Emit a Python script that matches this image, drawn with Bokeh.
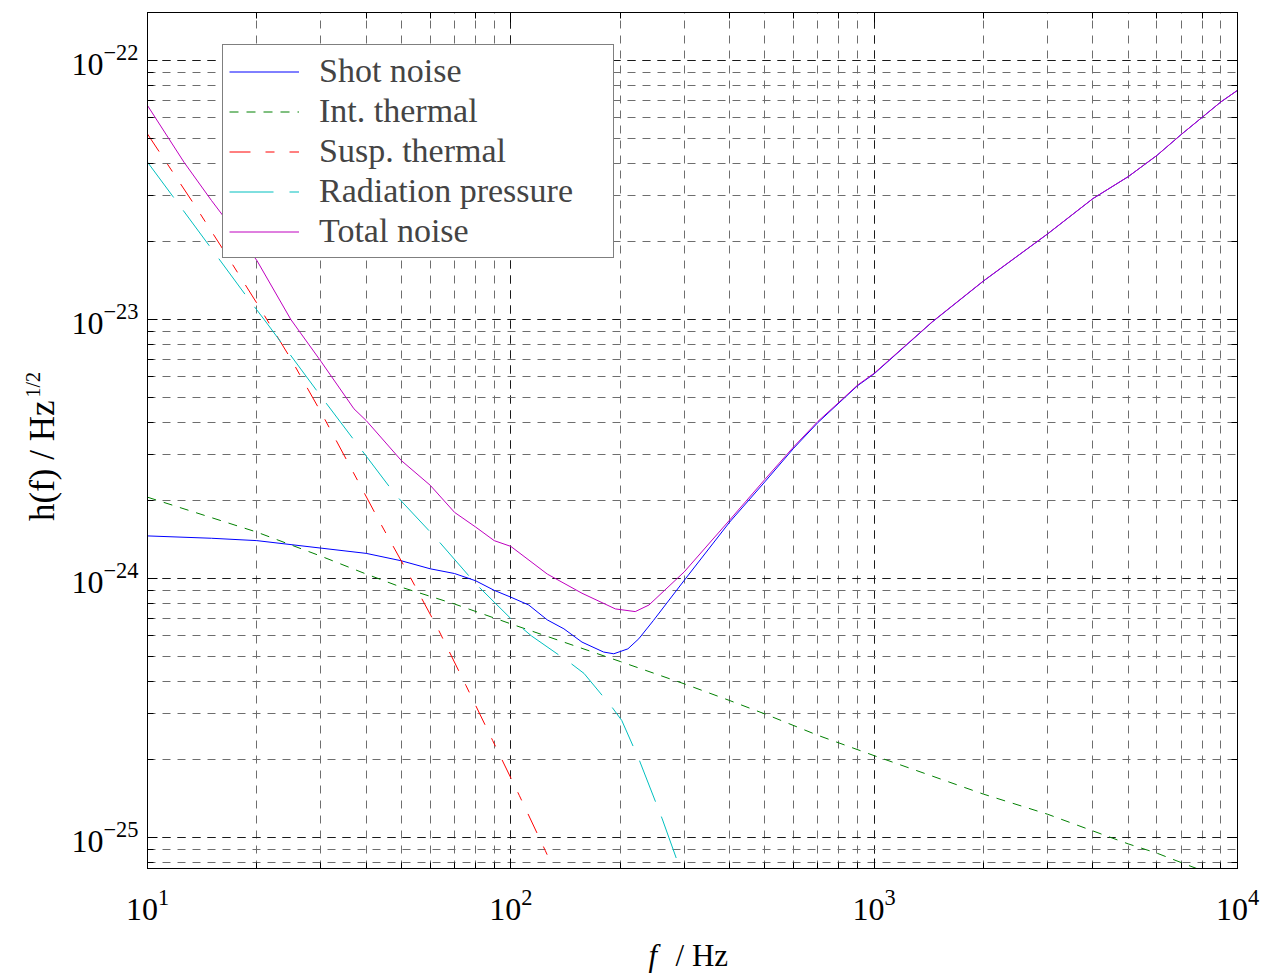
import math
from bokeh.plotting import figure
from bokeh.models import (Legend, LegendItem, Label, LogAxis, Range1d,
                          CustomJSTickFormatter)
from bokeh.embed import file_html
from bokeh.resources import INLINE

# ---------------- data ----------------
f_shot = [10, 15, 20, 30, 40, 50, 60, 70, 80, 90, 100, 112, 126, 140, 157, 180,
          192, 210, 225, 247, 300, 400, 500, 600, 700, 800, 900, 1000, 1445,
          2000, 3000, 4000, 5000, 6000, 7000, 8000, 9000, 10000]
h_shot = [1.46e-24, 1.43e-24, 1.40e-24, 1.31e-24, 1.25e-24, 1.17e-24, 1.09e-24,
          1.045e-24, 9.8e-25, 9.0e-25, 8.47e-25, 7.9e-25, 6.92e-25, 6.39e-25,
          5.68e-25, 5.2e-25, 5.12e-25, 5.35e-25, 5.85e-25, 6.89e-25, 9.83e-25,
          1.65e-24, 2.36e-24, 3.18e-24, 4.0e-24, 4.76e-24, 5.55e-24, 6.17e-24,
          9.78e-24, 1.408e-23, 2.138e-23, 2.928e-23, 3.558e-23, 4.298e-23,
          5.178e-23, 6.038e-23, 6.918e-23, 7.668e-23]

f_int = [10, 20, 30, 40, 50, 70, 100, 200, 300, 400, 500, 700, 1000, 2000, 3000,
         4000, 5000, 6000, 7000, 10000]
h_int = [2.06e-24, 1.51e-24, 1.22e-24, 1.04e-24, 9.25e-25, 7.97e-25, 6.68e-25,
         4.78e-25, 3.92e-25, 3.38e-25, 3.0e-25, 2.48e-25, 2.07e-25, 1.47e-25,
         1.23e-25, 1.06e-25, 9.45e-26, 8.7e-26, 8.0e-26, 6.6e-26]

f_susp = [10, 13.4, 16.2, 20.2, 24.8, 30.2, 36.2, 43.8, 52.5, 63, 75.2, 89.1,
          105.6, 124.4, 150]
h_susp = [5.2e-23, 2.8e-23, 1.85e-23, 1.13e-23, 7.05e-24, 4.32e-24, 2.69e-24,
          1.63e-24, 1.03e-24, 6.4e-25, 3.87e-25, 2.37e-25, 1.45e-25, 8.9e-26,
          5.0e-26]

f_rad = [10, 11.8, 14.9, 18.8, 21.4, 29.9, 37.7, 48.2, 62, 80.3, 100, 114, 146,
         159, 190, 202, 226, 261, 292, 320]
h_rad = [4.05e-23, 2.96e-23, 1.90e-23, 1.22e-23, 9.6e-24, 5.09e-24, 3.31e-24,
         2.1e-24, 1.44e-24, 9.5e-25, 7.0e-25, 6.0e-25, 4.71e-25, 4.3e-25,
         3.18e-25, 2.83e-25, 1.98e-25, 1.18e-25, 7.6e-26, 5.0e-26]

f_tot = [10, 12.6, 15, 20, 24.8, 30, 37, 40, 50, 60, 70, 80, 90, 100, 126, 157,
         194, 220, 240, 300, 400, 500, 600, 700, 800, 900, 1000, 1445, 2000,
         3000, 4000, 5000, 6000, 7000, 8000, 9000, 10000]
h_tot = [6.7e-23, 4.05e-23, 2.88e-23, 1.69e-23, 1.0e-23, 6.9e-24, 4.52e-24,
         4.07e-24, 2.85e-24, 2.29e-24, 1.80e-24, 1.58e-24, 1.40e-24, 1.33e-24,
         1.04e-24, 8.77e-25, 7.63e-25, 7.45e-25, 7.9e-25, 1.06e-24, 1.68e-24,
         2.41e-24, 3.22e-24, 4.04e-24, 4.79e-24, 5.58e-24, 6.2e-24, 9.8e-24,
         1.41e-23, 2.14e-23, 2.93e-23, 3.56e-23, 4.30e-23, 5.18e-23, 6.04e-23,
         6.92e-23, 7.67e-23]

series_names = ["Shot noise", "Int. thermal", "Susp. thermal",
                "Radiation pressure", "Total noise"]
x_label_italic = "f"
x_label_rest = "/ Hz"
y_label_main = "h(f) / Hz"
y_label_sup = "1/2"

x_lo, x_hi = 10, 1e4
y_lo, y_hi = 7.59e-26, 1.532e-22

SERIF = "Liberation Serif"

# ---------------- figure ----------------
p = figure(width=1265, height=974, x_axis_type="log", y_axis_type="log",
           x_range=Range1d(x_lo, x_hi), y_range=Range1d(y_lo, y_hi),
           output_backend="svg", toolbar_location=None,
           min_border_left=147, min_border_right=28, min_border_top=12,
           min_border_bottom=106)
p.background_fill_color = "white"
p.border_fill_color = "white"
p.outline_line_color = "black"
p.outline_line_width = 1

for g in (p.xgrid, p.ygrid):
    g.grid_line_color = "#1a1a1a"
    g.grid_line_dash = "8 7"
    g.grid_line_width = 1
    g.minor_grid_line_color = "#6e6e6e"
    g.minor_grid_line_dash = "8 7"
    g.minor_grid_line_width = 1

for ax in (p.xaxis[0], p.yaxis[0]):
    ax.axis_line_color = "black"
    ax.major_tick_in = 10
    ax.major_tick_out = 0
    ax.minor_tick_in = 6
    ax.minor_tick_out = 0
    ax.major_tick_line_color = "black"
    ax.minor_tick_line_color = "black"
    ax.major_label_text_font = SERIF
    ax.major_label_text_font_size = "32px"
    ax.major_label_text_color = "black"
p.xaxis.major_label_standoff = 21
p.yaxis.major_label_standoff = 9

blank = CustomJSTickFormatter(code="return ''")
for side in ("right", "above"):
    ax = LogAxis(formatter=blank)
    ax.axis_line_color = "black"
    ax.major_tick_in = 10
    ax.major_tick_out = 0
    ax.minor_tick_in = 6
    ax.minor_tick_out = 0
    ax.major_label_standoff = 0
    ax.major_label_text_font_size = "1px"
    p.add_layout(ax, side)

# ---------------- curves ----------------
r_shot = p.line(f_shot, h_shot, line_color="#0000ff", line_width=1)
r_int = p.line(f_int, h_int, line_color="#008000", line_width=1,
               line_dash="9 8")
r_susp = p.line(f_susp, h_susp, line_color="#ff0000", line_width=1,
                line_dash="21 15 9 15")
r_rad = p.line(f_rad, h_rad, line_color="#00bfbf", line_width=1,
               line_dash="44 16")
r_tot = p.line(f_tot, h_tot, line_color="#bf00bf", line_width=1)

legend = Legend(items=[LegendItem(label=n, renderers=[r]) for n, r in
                       zip(series_names, [r_shot, r_int, r_susp, r_rad, r_tot])],
                location=(75, 610))
legend.label_text_font = SERIF
legend.label_text_font_size = "34px"
legend.glyph_width = 70
legend.glyph_height = 39
legend.label_height = 40
legend.label_width = 288
legend.label_standoff = 20
legend.spacing = 0
legend.padding = 6
legend.margin = 0
legend.border_line_color = "black"
legend.border_line_width = 1
legend.background_fill_color = "white"
legend.background_fill_alpha = 1
p.add_layout(legend)

# ---------------- axis titles (side-panel labels, placed in data units) ----
def xd(px):
    return 10 ** (1 + (px - 147) / 363.3)

def yd(py):
    return 10 ** (-22 - (py - 60) / 259)

lab_y = Label(x=xd(42), y=yd(400), text=y_label_main, angle=math.pi / 2,
              text_align="right", text_baseline="alphabetic",
              text_font=SERIF, text_font_size="35px", text_color="black")
lab_sup = Label(x=xd(33), y=yd(397), text=y_label_sup, angle=math.pi / 2,
                text_align="left", text_baseline="alphabetic",
                text_font=SERIF, text_font_size="20px", text_color="black")
lab_f = Label(x=xd(648), y=yd(955), text=x_label_italic, text_align="left",
              text_baseline="alphabetic", text_font=SERIF,
              text_font_style="italic", text_font_size="31px",
              text_color="black")
lab_hz = Label(x=xd(675), y=yd(955), text=x_label_rest, text_align="left",
               text_baseline="alphabetic", text_font=SERIF,
               text_font_size="31px", text_color="black")
p.add_layout(lab_y, "left")
p.add_layout(lab_f, "left")
p.add_layout(lab_sup, "right")
p.add_layout(lab_hz, "below")

open("out.html", "w").write(file_html(p, INLINE))
